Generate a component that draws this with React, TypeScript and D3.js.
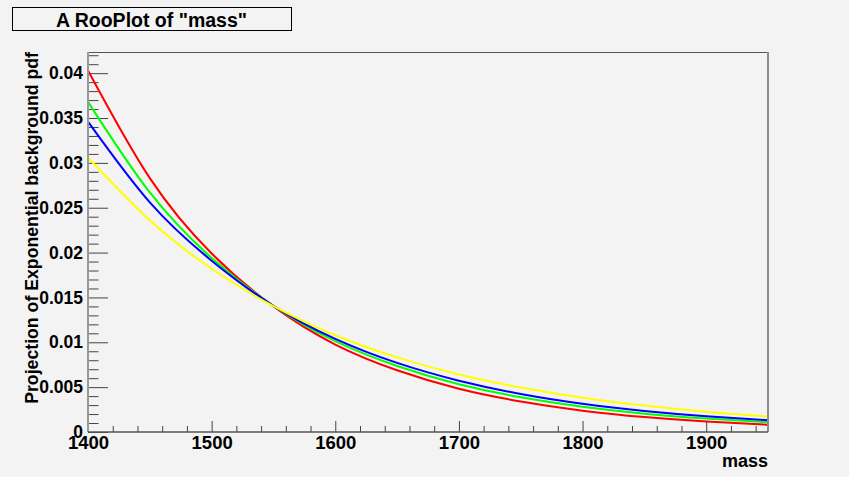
import { useEffect, useRef } from 'react';
import * as d3 from 'd3';

const masses = [1400, 1450, 1500, 1550, 1600, 1650, 1700, 1750, 1800, 1850, 1900, 1950];

// projected pdf values per curve
const redValues = [0.0403, 0.0283, 0.0199, 0.0140, 0.00975, 0.00688, 0.00482, 0.00340, 0.00238, 0.00167, 0.00117, 0.00080];
const greenValues = [0.0368, 0.0267, 0.0194, 0.01405, 0.01012, 0.00736, 0.00533, 0.00387, 0.00281, 0.00204, 0.00150, 0.00108];
const blueValues = [0.0346, 0.0256, 0.0191, 0.01407, 0.01038, 0.00770, 0.00572, 0.00424, 0.00315, 0.00235, 0.00176, 0.00131];
const yellowValues = [0.0306, 0.0236, 0.0182, 0.01403, 0.01078, 0.00832, 0.00640, 0.00495, 0.00382, 0.00295, 0.00226, 0.00173];

const xMajorTicks = [1400, 1500, 1600, 1700, 1800, 1900];
const yMajorTicks = [0, 0.005, 0.01, 0.015, 0.02, 0.025, 0.03, 0.035, 0.04];
const yTickLabels = ['0', '0.005', '0.01', '0.015', '0.02', '0.025', '0.03', '0.035', '0.04'];

const title = 'A RooPlot of "mass"';
const xTitle = 'mass';
const yTitle = 'Projection of Exponential background pdf';

const App = () => {
  const chartRef = useRef<SVGSVGElement>(null);

  useEffect(() => {
    const svg = d3.select(chartRef.current);
    svg.selectAll('*').remove();

    const W = 849, H = 477;
    const left = 88, right = 768, top = 52, bottom = 432;
    const font = 'Liberation Sans, Arial, Helvetica, sans-serif';

    svg.append('rect').attr('width', W).attr('height', H).attr('fill', '#f3f3f3');

    const x = d3.scaleLinear().domain([1400, 1950]).range([left, right]);
    const y = d3.scaleLinear().domain([0, 0.04236]).range([bottom, top]);

    // minor ticks
    const xMinor = d3.range(1400, 1951, 20).filter(v => v % 100 !== 0);
    const yMinor = d3.range(0, 43).map(i => i / 1000).filter(v => Math.round(v * 1000) % 5 !== 0);

    const xAxisMinor = svg.append('g')
      .attr('transform', `translate(0,${bottom})`)
      .call(d3.axisBottom(x).tickValues(xMinor).tickSize(-6).tickFormat(() => ''));
    xAxisMinor.select('.domain').remove();

    const xAxis = svg.append('g')
      .attr('transform', `translate(0,${bottom})`)
      .call(d3.axisBottom(x).tickValues(xMajorTicks).tickSize(-11).tickPadding(4).tickFormat(d3.format('d')));
    xAxis.select('.domain').remove();
    xAxis.selectAll('text')
      .style('font-family', font)
      .style('font-weight', 'bold')
      .style('font-size', '18.5px')
      .attr('fill', '#000');

    const yAxisMinor = svg.append('g')
      .attr('transform', `translate(${left},0)`)
      .call(d3.axisLeft(y).tickValues(yMinor).tickSize(-10.5).tickFormat(() => ''));
    yAxisMinor.select('.domain').remove();

    const yAxis = svg.append('g')
      .attr('transform', `translate(${left},0)`)
      .call(d3.axisLeft(y).tickValues(yMajorTicks).tickSize(-20).tickPadding(5)
        .tickFormat((d, i) => yTickLabels[i]));
    yAxis.select('.domain').remove();
    yAxis.selectAll('text')
      .style('font-family', font)
      .style('font-weight', 'bold')
      .style('font-size', '17.5px')
      .attr('fill', '#000');

    svg.selectAll('.tick line').attr('stroke', '#444');

    // curves
    const series = [
      { values: redValues, color: '#ff0000' },
      { values: greenValues, color: '#00ff00' },
      { values: blueValues, color: '#0000ff' },
      { values: yellowValues, color: '#ffff00' },
    ];
    const line = d3.line<number>()
      .x((d, i) => x(masses[i]))
      .y(d => y(d))
      .curve(d3.curveNatural);

    series.forEach(s => {
      svg.append('path')
        .datum(s.values)
        .attr('d', line)
        .attr('fill', 'none')
        .attr('stroke', s.color)
        .attr('stroke-width', 2);
    });

    // frame
    svg.append('line').attr('x1', left).attr('x2', right).attr('y1', top + 0.5).attr('y2', top + 0.5)
      .attr('stroke', '#555').attr('stroke-width', 1);
    svg.append('line').attr('x1', right).attr('x2', right).attr('y1', top).attr('y2', bottom)
      .attr('stroke', '#8c8c8c').attr('stroke-width', 2);
    svg.append('line').attr('x1', left).attr('x2', left).attr('y1', top).attr('y2', bottom)
      .attr('stroke', '#9a9a9a').attr('stroke-width', 2);
    svg.append('line').attr('x1', left).attr('x2', right).attr('y1', bottom).attr('y2', bottom)
      .attr('stroke', '#555').attr('stroke-width', 1.5);

    // axis titles
    svg.append('text')
      .attr('x', right)
      .attr('y', 467)
      .attr('text-anchor', 'end')
      .style('font-family', font)
      .style('font-weight', 'bold')
      .style('font-size', '18px')
      .text(xTitle);

    svg.append('text')
      .attr('transform', `translate(37.5,${top}) rotate(-90)`)
      .attr('text-anchor', 'end')
      .style('font-family', font)
      .style('font-weight', 'bold')
      .style('font-size', '17.7px')
      .text(yTitle);

    // title box
    svg.append('rect')
      .attr('x', 12.5).attr('y', 7.5).attr('width', 279).attr('height', 23)
      .attr('fill', '#f3f3f3').attr('stroke', '#000').attr('stroke-width', 1);
    svg.append('text')
      .attr('x', 151.5)
      .attr('y', 26.5)
      .attr('text-anchor', 'middle')
      .style('font-family', font)
      .style('font-weight', 'bold')
      .style('font-size', '19.5px')
      .text(title);
  }, []);

  return (
    <svg ref={chartRef} width={849} height={477} style={{ position: 'absolute', left: 0, top: 0 }} />
  );
};

export default App;
